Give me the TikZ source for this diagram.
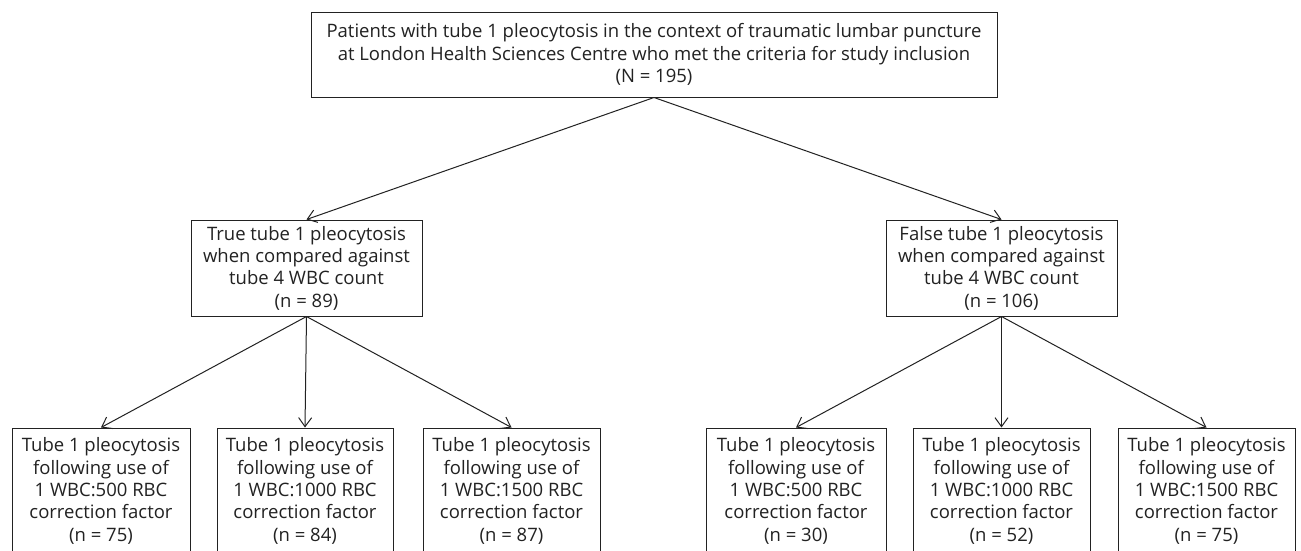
\documentclass[tikz,border=0pt]{standalone}
\usepackage{fontspec}
\setmainfont{Open Sans}
\usetikzlibrary{arrows.meta}
\definecolor{ink}{HTML}{222222}
\tikzset{
  box/.style={draw=ink, line width=1pt, text=ink, align=center, inner sep=0pt,
    font=\fontsize{18.5}{22.3}\selectfont},
  arr/.style={draw=ink, line width=1pt, -{Straight Barb[length=9pt,width=13pt,line width=1pt]}}
}
\begin{document}
\begin{tikzpicture}[x=1pt,y=-1pt]
\useasboundingbox (0,0) rectangle (1301,550);
\fill[white] (0,0) rectangle (1301,550);
\node[box, minimum width=686pt, minimum height=85pt] (top) at (654,54.5)
  {Patients with tube 1 pleocytosis in the context of traumatic lumbar puncture\\
   at London Health Sciences Centre who met the criteria for study inclusion\\
   (N = 195)};
\node[box, minimum width=231pt, minimum height=96pt] (tru) at (306.5,268)
  {True tube 1 pleocytosis\\when compared against\\tube 4 WBC count\\(n = 89)};
\node[box, minimum width=231pt, minimum height=96pt] (fal) at (1001.5,268)
  {False tube 1 pleocytosis\\when compared against\\tube 4 WBC count\\(n = 106)};
\node[box, minimum width=178pt, minimum height=126pt] (a1) at (101,491)
  {Tube 1 pleocytosis\\following use of\\1 WBC:500 RBC\\correction factor\\(n = 75)};
\node[box, minimum width=176pt, minimum height=126pt] (a2) at (305,491)
  {Tube 1 pleocytosis\\following use of\\1 WBC:1000 RBC\\correction factor\\(n = 84)};
\node[box, minimum width=177pt, minimum height=126pt] (a3) at (511.5,491)
  {Tube 1 pleocytosis\\following use of\\1 WBC:1500 RBC\\correction factor\\(n = 87)};
\node[box, minimum width=180pt, minimum height=126pt] (b1) at (796,491)
  {Tube 1 pleocytosis\\following use of\\1 WBC:500 RBC\\correction factor\\(n = 30)};
\node[box, minimum width=177pt, minimum height=126pt] (b2) at (1001.5,491)
  {Tube 1 pleocytosis\\following use of\\1 WBC:1000 RBC\\correction factor\\(n = 52)};
\node[box, minimum width=177pt, minimum height=126pt] (b3) at (1206.5,491)
  {Tube 1 pleocytosis\\following use of\\1 WBC:1500 RBC\\correction factor\\(n = 75)};
\draw[arr] (top.south) -- (tru.north);
\draw[arr] (top.south) -- (fal.north);
\draw[arr] (tru.south) -- (a1.north);
\draw[arr] (tru.south) -- (a2.north);
\draw[arr] (tru.south) -- (a3.north);
\draw[arr] (fal.south) -- (b1.north);
\draw[arr] (fal.south) -- (b2.north);
\draw[arr] (fal.south) -- (b3.north);
\end{tikzpicture}
\end{document}
